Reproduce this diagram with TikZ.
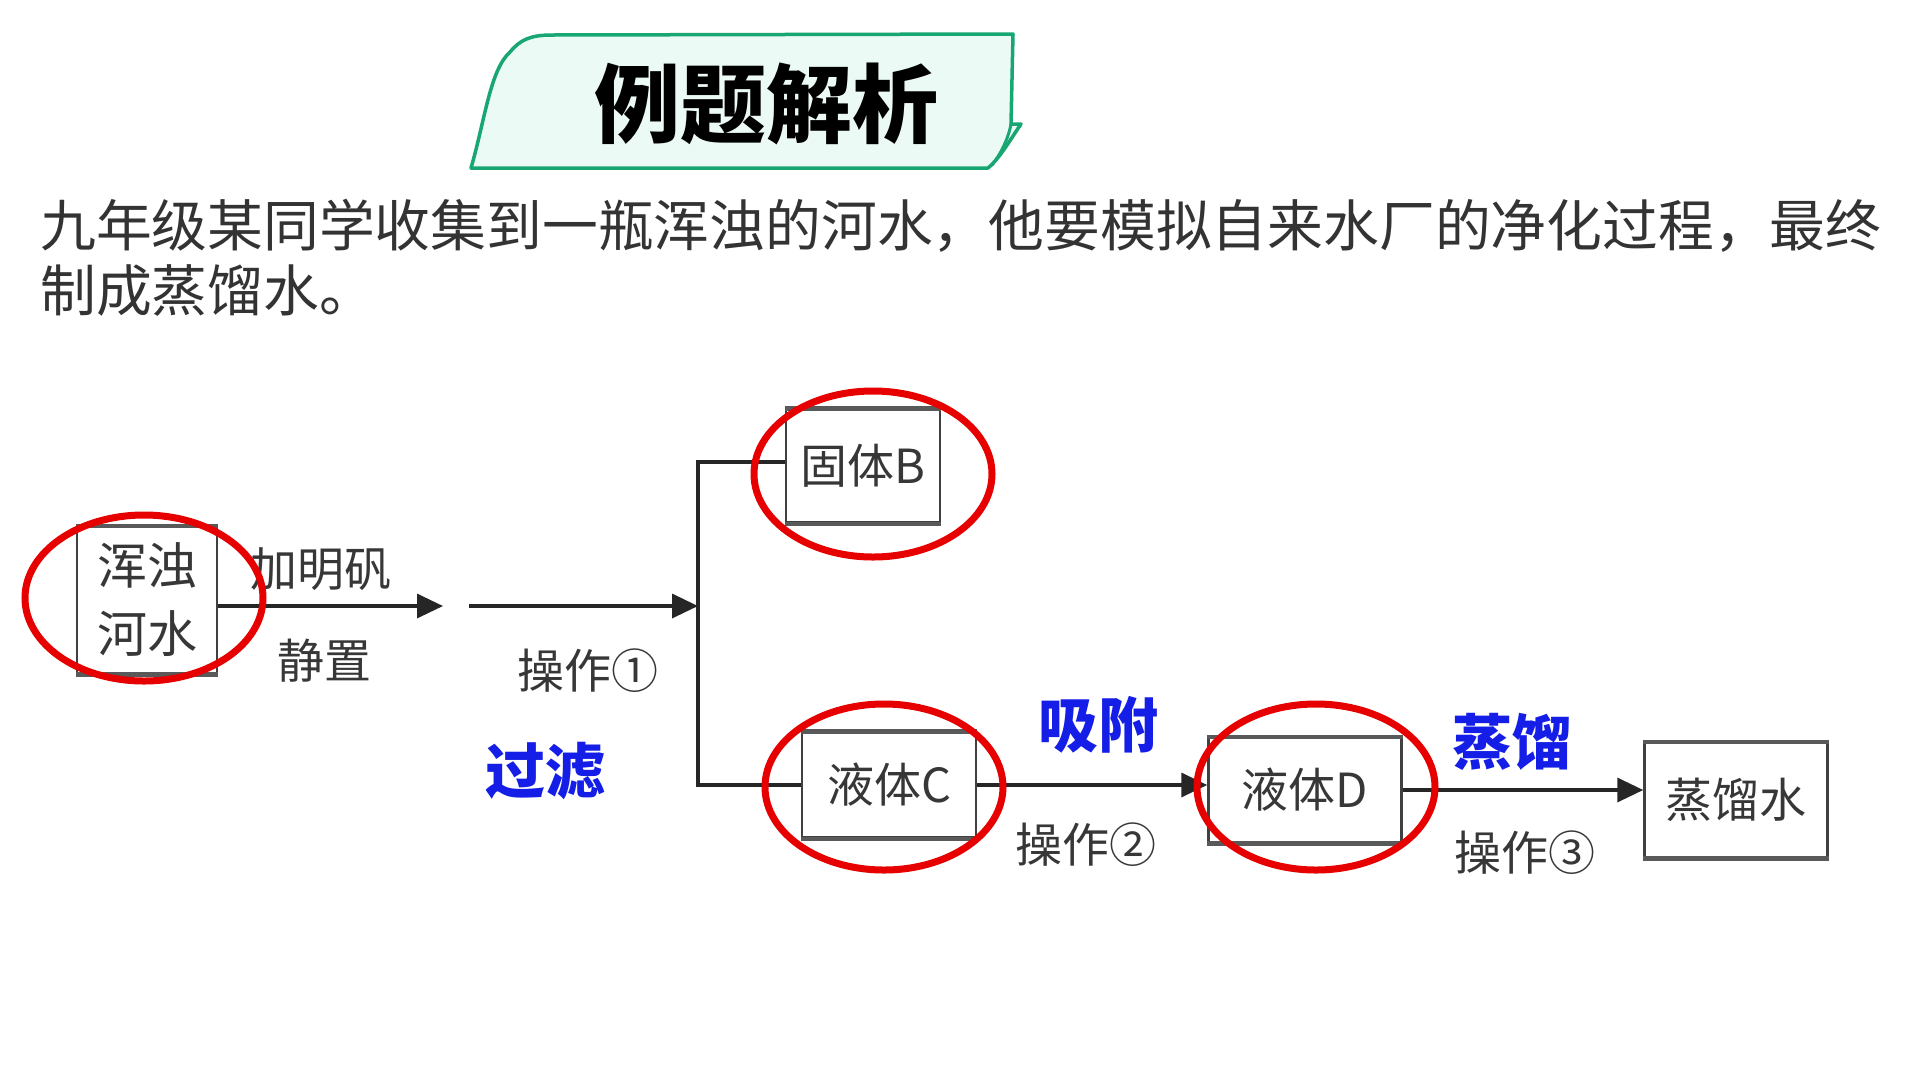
\documentclass[tikz,border=0pt]{standalone}
\usepackage{fontspec}
\newfontfamily\cjk{Noto Sans CJK SC}
\usetikzlibrary{arrows.meta,shapes.geometric}
\definecolor{bannerline}{RGB}{24,166,115}
\definecolor{bannerfill}{RGB}{236,250,245}
\definecolor{para}{RGB}{51,51,51}
\definecolor{diag}{RGB}{55,55,55}
\definecolor{bluelab}{RGB}{20,30,230}
\definecolor{ringred}{RGB}{230,0,0}
\tikzset{
  stagebox/.style={draw=black!75, line width=2.5pt, fill=white, inner sep=0pt,
    font=\cjk\fontsize{47}{66}\selectfont, text=diag, align=center},
  boxedge/.style={draw=black!65, line width=4.5pt},
  oplabel/.style={inner sep=0pt, font=\cjk\fontsize{47}{60}\selectfont, text=diag},
  bluelabel/.style={inner sep=0pt, font=\cjk\bfseries\fontsize{60}{70}\selectfont, text=bluelab},
  paraline/.style={inner sep=0pt, anchor=west, font=\cjk\fontsize{55.8}{66}\selectfont, text=para},
  ring/.style={ellipse, draw=ringred, line width=7pt, minimum width=238pt, minimum height=166pt, inner sep=0pt},
  flow/.style={draw=black!85, line width=3.5pt},
  flowarr/.style={flow, -{Triangle[length=26pt,width=24pt]}},
}
\begin{document}
\begin{tikzpicture}[x=1pt,y=-1pt]
\useasboundingbox (0,0) rectangle (1920,1080);
\fill[white] (0,0) rectangle (1920,1080);

% title banner
\draw[bannerline, line width=3.5pt, fill=bannerfill, line join=round]
  (471,168) .. controls (485,120) and (490,70) .. (510,52)
  .. controls (520,40) and (530,35) .. (552,35)
  -- (1013,34) -- (1011,124) -- (1021,124)
  .. controls (1010,140) and (1000,158) .. (988,168) -- cycle;
\draw[bannerline, line width=3pt] (1011,124) .. controls (1008,140) and (1000,155) .. (992,165);
\node[inner sep=0pt, font=\cjk\bfseries\fontsize{86}{90}\selectfont, text=black] (title) at (766,104) {例题解析};

% paragraph
\node[paraline] (p1) at (40,226) {九年级某同学收集到一瓶浑浊的河水，他要模拟自来水厂的净化过程，最终};
\node[paraline] (p2) at (40,291) {制成蒸馏水。};

% boxes
\node[stagebox, minimum width=140pt, minimum height=146pt, font=\cjk\fontsize{50}{68}\selectfont] (river) at (147,600) {浑浊\\河水};
\node[stagebox, minimum width=154pt, minimum height=113pt] (solidB) at (863,466) {固体B};
\node[stagebox, minimum width=174pt, minimum height=105pt] (liqC) at (889,785) {液体C};
\node[stagebox, minimum width=193pt, minimum height=104pt] (liqD) at (1305,790) {液体D};
\node[stagebox, minimum width=183pt, minimum height=114pt] (water) at (1736,800) {蒸馏水};

% heavier top and bottom edges of the boxes
\foreach \b in {river,solidB,liqC,liqD,water}{
  \draw[boxedge] (\b.north west) -- (\b.north east);
  \draw[boxedge] (\b.south west) -- (\b.south east);
}

% junction coordinates
\coordinate (a1e) at (443,606);
\coordinate (a2s) at (469,606);
\coordinate (jx) at (698,606);
\coordinate (jb) at (698,462);

% connectors
\draw[flowarr] (river.east |- a1e) -- (a1e);
\draw[flowarr] (a2s) -- (jx);
\draw[flow] (solidB.west |- jb) -- (jb) -- (liqC.west -| jx) -- (liqC.west);
\draw[flowarr] (liqC.east) -- (liqC.east -| liqD.west);
\draw[flowarr] (liqD.east) -- (liqD.east -| water.west);

% operation labels
\node[oplabel] (l1a) at (321,569) {加明矾};
\node[oplabel] (l1b) at (324,661) {静置};
\node[oplabel] (op1) at (588,671) {操作①};
\node[oplabel] (op2) at (1086,845) {操作②};
\node[oplabel] (op3) at (1525,853) {操作③};

% blue labels
\node[bluelabel] (filt) at (545,771) {过滤};
\node[bluelabel] (adsorb) at (1098,725) {吸附};
\node[bluelabel] (distil) at (1512,742) {蒸馏};

% red rings
\node[ring] (r1) at (144,598) {};
\node[ring] (r2) at (873,474) {};
\node[ring] (r3) at (884,787) {};
\node[ring] (r4) at (1316,787) {};
\end{tikzpicture}
\end{document}
